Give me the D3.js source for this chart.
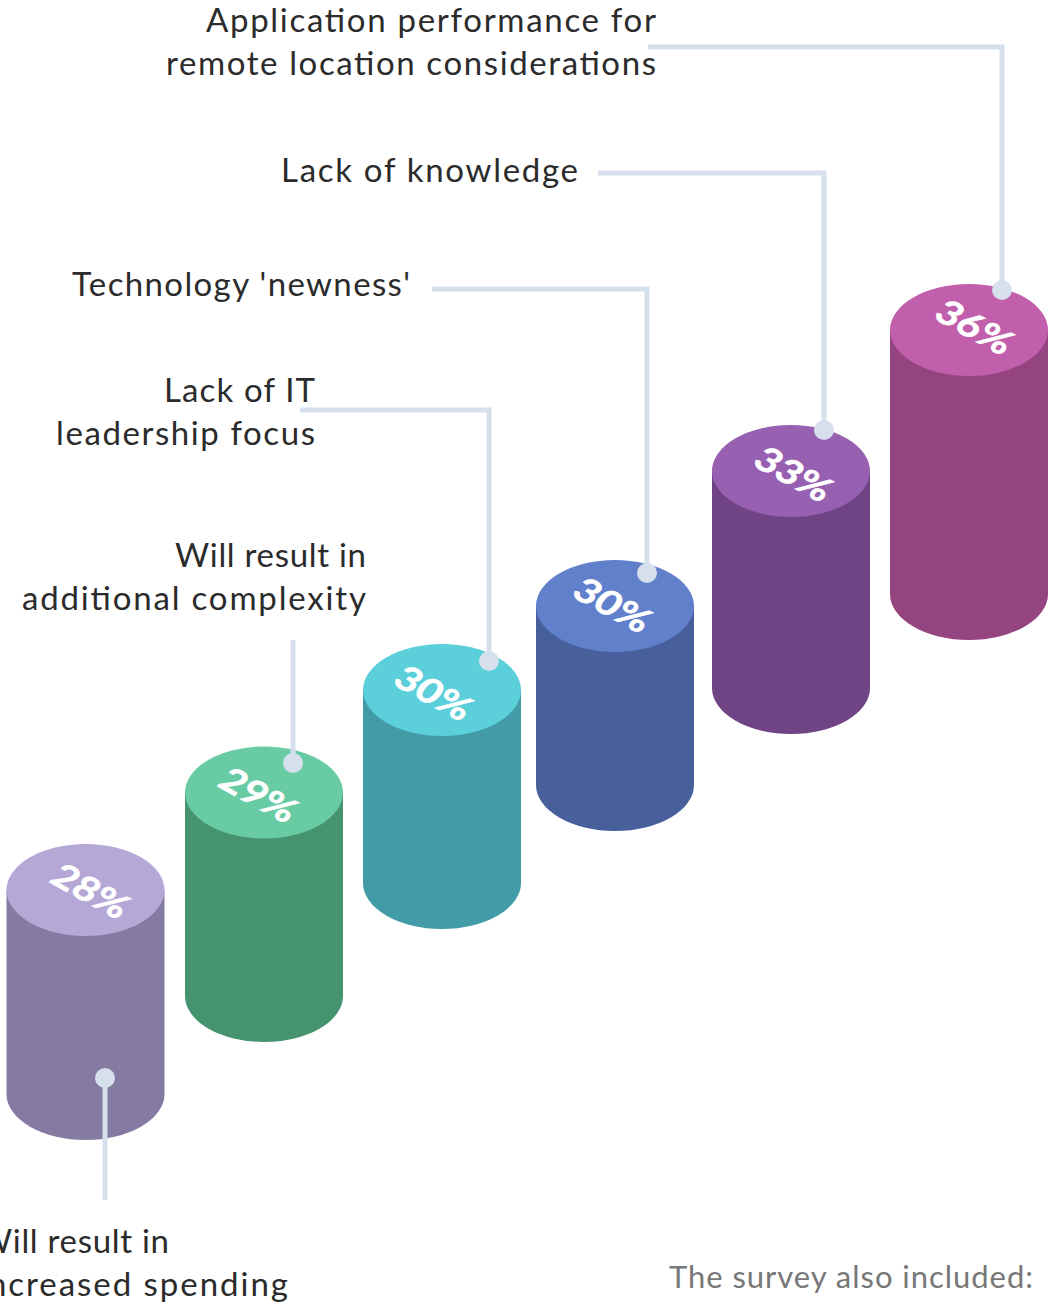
<!DOCTYPE html>
<html><head><meta charset="utf-8">
<script src="https://cdn.jsdelivr.net/npm/d3@7/dist/d3.min.js"></script>
<style>html,body{margin:0;padding:0;background:#fff;overflow:hidden}svg{display:block}</style>
</head><body><div id="chart"></div>
<script>
const categories = ["increased","complexity","leadership","newness","knowledge","performance"];
const values = [28,29,30,30,33,36];
const sideColors = ["#857aa1","#46936f","#449ba8","#475f9b","#6f4384","#944580"];
const topColors = ["#b5a7d6","#69cba4","#5bcfda","#6180cc","#9860b0","#c25fad"];
const labelLines = [
  ["Will result in","increased spending"],
  ["Will result in","additional complexity"],
  ["Lack of IT","leadership focus"],
  ["Technology 'newness'"],
  ["Lack of knowledge"],
  ["Application performance for","remote location considerations"]
];
const footnote = "The survey also included:";

const W=1055,H=1303,RX=79,RY=46;
const xScale=d3.scaleOrdinal(categories,[85.5,264,442,615,791,969]);
const topScale=d3.scaleOrdinal(categories,[890,792.5,690,606,471,330]);
const bottomScale=d3.scaleOrdinal(categories,[1094,996,883,785,688,594]);
const pctX=d3.scaleOrdinal(categories,[91,259,434,613,794,975]);
const pctY=d3.scaleOrdinal(categories,[891,795,693,605,474,327]);
const labelAnchor=d3.scaleOrdinal(categories,[
  {x:-22,y:1253,a:"start",w:[191,310]},{x:366,y:567,a:"end",w:[191,344]},{x:315,y:402,a:"end",w:[151,259]},
  {x:410,y:296,a:"end",w:[338]},{x:578,y:182,a:"end",w:[297]},{x:656,y:32,a:"end",w:[450,490]}]);
const leaderPts=d3.scaleOrdinal(categories,[
  [[105,1200],[105,1078]],[[293,640],[293,763]],[[300,410],[489,410],[489,661]],
  [[432,289],[647,289],[647,573]],[[598,173],[824,173],[824,430]],[[648,47],[1002,47],[1002,290]]]);

const svg=d3.select("#chart").append("svg").attr("width",W).attr("height",H);
const g=svg.selectAll("g.cyl").data(categories).join("g").attr("class","cyl");
g.append("path").attr("fill",(d,i)=>sideColors[i]).attr("d",d=>{
  const cx=xScale(d),t=topScale(d),b=bottomScale(d);
  return `M${cx-RX},${t}L${cx-RX},${b}A${RX},${RY} 0 0 0 ${cx+RX},${b}L${cx+RX},${t}Z`;});
g.append("ellipse").attr("fill",(d,i)=>topColors[i])
  .attr("cx",d=>xScale(d)).attr("cy",d=>topScale(d)).attr("rx",RX).attr("ry",RY);
g.append("text").text((d,i)=>values[i]+"%")
  .attr("transform",d=>`translate(${pctX(d)},${pctY(d)}) rotate(29) skewX(-10) scale(1.16,1)`)
  .attr("text-anchor","middle").attr("dy","0.36em")
  .attr("font-family","Lato").attr("font-weight",700).attr("font-size",35)
  .attr("fill","#fff").attr("stroke","#fff").attr("stroke-width",0.6);

const line=d3.line();
svg.selectAll("path.leader").data(categories).join("path").attr("class","leader")
  .attr("fill","none").attr("stroke","#d6e0ec").attr("stroke-width",5)
  .attr("d",d=>line(leaderPts(d)));
svg.selectAll("circle.dot").data(categories).join("circle").attr("class","dot")
  .attr("fill","#d6e0ec").attr("r",10)
  .attr("cx",d=>leaderPts(d).at(-1)[0]).attr("cy",d=>leaderPts(d).at(-1)[1]);

const lab=svg.selectAll("text.lab").data(categories).join("text").attr("class","lab")
  .attr("font-family","Lato").attr("font-size",33).attr("fill","#2b2b2b")
  .attr("text-anchor",d=>labelAnchor(d).a);
labelLines.forEach((lines,k)=>{
  const a=labelAnchor(categories[k]);
  lines.forEach((t,i)=>{
    svg.append("text").attr("x",a.x).attr("y",a.y+i*43).attr("text-anchor",a.a)
      .attr("textLength",a.w[i]).attr("lengthAdjust","spacing")
      .attr("font-family","Lato").attr("font-size",33).attr("fill","#2b2b2b").text(t);
  });
});
svg.append("text").attr("x",1033).attr("y",1288).attr("text-anchor","end")
  .attr("textLength",364).attr("lengthAdjust","spacing")
  .attr("font-family","Lato").attr("font-size",31).attr("fill","#777").text(footnote);
</script></body></html>
